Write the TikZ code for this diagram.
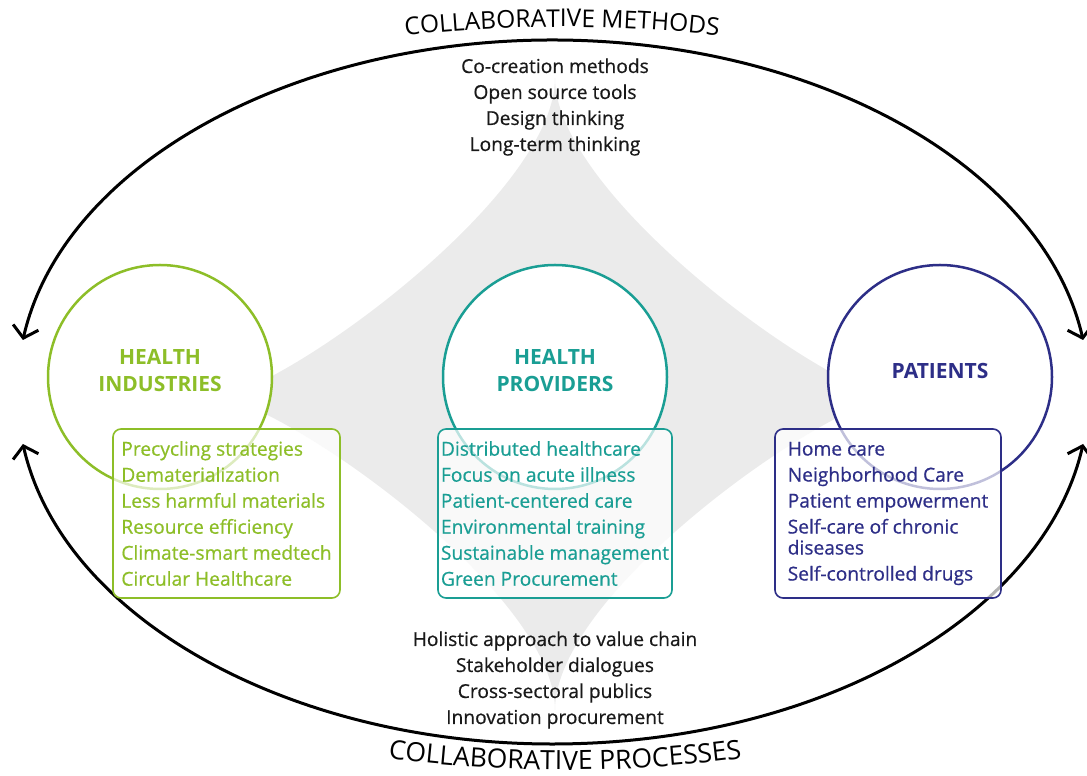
\documentclass[tikz,border=0pt]{standalone}
\usepackage{fontspec}
\setmainfont{Open Sans}
\newfontfamily\listfont{Open Sans}[FakeBold=0.6]
\usepackage{tikz}
\usetikzlibrary{arrows.meta,decorations.text}
\definecolor{indgreen}{RGB}{141,190,40}
\definecolor{provteal}{RGB}{26,158,148}
\definecolor{patblue}{RGB}{45,46,135}
\definecolor{stargray}{RGB}{235,235,235}
\newcommand{\bigcapfont}{\fontsize{24.5}{28}\selectfont}
\newcommand{\bigcapfontb}{\fontsize{26.5}{30}\selectfont}
\newcommand{\listsize}{\listfont\fontsize{19.2}{26}\selectfont}

\begin{document}
\begin{tikzpicture}[x=1pt,y=1pt,
    hub/.style={circle, draw, line width=2.5pt, fill=white, minimum size=224pt, inner sep=0pt},
    hubtitle/.style={align=center, font=\fontsize{21}{27}\selectfont\bfseries},
    listbox/.style={draw, rounded corners=8pt, line width=1.6pt, fill=white, fill opacity=0.7, text opacity=1,
      minimum height=169pt, inner xsep=0pt, align=left, font=\listsize},
    midlist/.style={align=center, text=black!90, font=\listsize},
    cyclearc/.style={line width=3pt, {Straight Barb[length=11pt,width=26pt]}-{Straight Barb[length=11pt,width=26pt]}}]
  \useasboundingbox (0,0) rectangle (1087,776);

  \fill[stargray] (555,698) .. controls (555,578) and (275,379) .. (215,379)
    .. controls (275,379) and (555,186) .. (555,66)
    .. controls (555,186) and (835,379) .. (895,379)
    .. controls (835,379) and (555,578) .. (555,698) -- cycle;

  \coordinate (methL) at (22.9,436);
  \coordinate (procL) at (22.9,332);
  \draw[cyclearc] (methL) arc[start angle=171.5, end angle=8.5, x radius=536, y radius=352];
  \draw[cyclearc] (procL) arc[start angle=188.5, end angle=351.5, x radius=536, y radius=352];

  \coordinate (methT) at (385.3,738.2);
  \coordinate (procT) at (353.8,22.6);
  \path[decorate, decoration={text along path, text align=center,
      text={|\bigcapfont|COLLABORATIVE METHODS}}]
    (methT) arc[start angle=97, end angle=83, radius=1450];
  \path[decorate, decoration={text along path, text align=center,
      text={|\bigcapfontb|COLLABORATIVE PROCESSES}}]
    (procT) arc[start angle=261, end angle=279, radius=1350];

  \node[midlist] (methList) at (555,669) {Co-creation methods\\Open source tools\\Design thinking\\Long-term thinking};
  \node[midlist] (procList) at (555,96) {Holistic approach to value chain\\Stakeholder dialogues\\Cross-sectoral publics\\Innovation procurement};

  \node[hub, draw=indgreen] (ind) at (160,399) {};
  \node[hub, draw=provteal] (prov) at (555,399) {};
  \node[hub, draw=patblue] (pat) at (940,399) {};
  \node[hubtitle, text=indgreen] (indT) at ([yshift=6]ind.center) {HEALTH\\INDUSTRIES};
  \node[hubtitle, text=provteal] (provT) at ([yshift=6]prov.center) {HEALTH\\PROVIDERS};
  \node[hubtitle, text=patblue] (patT) at ([yshift=6]pat.center) {PATIENTS};

  \node[listbox, draw=indgreen, text=indgreen, minimum width=227pt] (indL) at (226.5,262.5)
    {Precycling strategies\\Dematerialization\\Less harmful materials\\Resource efficiency\\Climate-smart medtech\\Circular Healthcare};
  \node[listbox, draw=provteal, text=provteal, minimum width=234pt] (provL) at (555,262.5)
    {Distributed healthcare\\Focus on acute illness\\Patient-centered care\\Environmental training\\Sustainable management\\Green Procurement};
  \node[listbox, draw=patblue, text=patblue, minimum width=226pt] (patL) at (888,262.5)
    {Home care\\Neighborhood Care\\Patient empowerment\\Self-care of chronic\\[-5pt]diseases\\Self-controlled drugs};
\end{tikzpicture}
\end{document}
